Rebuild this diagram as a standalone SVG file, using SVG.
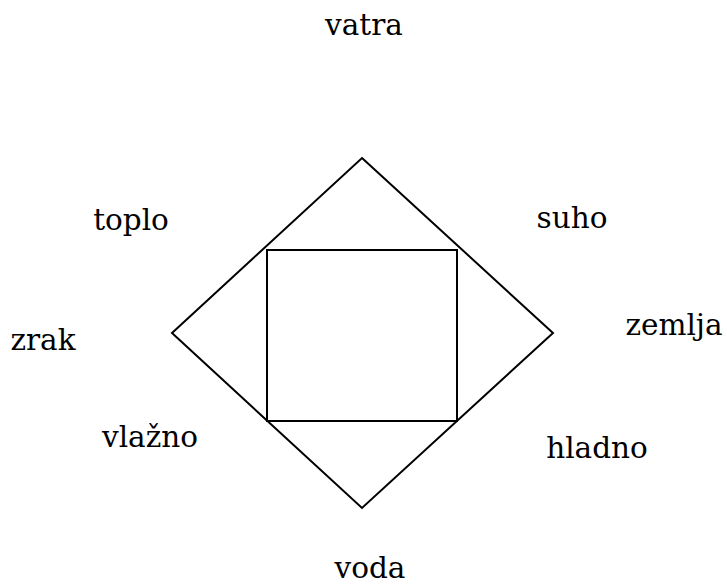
<svg xmlns="http://www.w3.org/2000/svg" width="727" height="586" viewBox="0 0 727 586">
<style>
.lbl{font-family:"DejaVu Serif","Liberation Serif",serif;font-size:29.5px;fill:#000;text-anchor:middle}
.shape{fill:none;stroke:#000;stroke-width:2}
</style>
<rect width="727" height="586" fill="#fff"/>
<g id="diamond"><polygon class="shape" points="362,158 553,333 362,508 172,333"/></g>
<g id="square"><rect class="shape" x="267" y="250" width="190" height="171"/></g>
<g id="connectors"></g>
<g id="vatra"><text class="lbl" x="364" y="35">vatra</text></g>
<g id="toplo"><text class="lbl" x="131" y="230">toplo</text></g>
<g id="suho"><text class="lbl" x="572" y="228">suho</text></g>
<g id="zrak"><text class="lbl" x="43" y="350">zrak</text></g>
<g id="zemlja"><text class="lbl" x="674" y="335">zemlja</text></g>
<g id="vlazno"><text class="lbl" x="150" y="447">vlažno</text></g>
<g id="hladno"><text class="lbl" x="597" y="458">hladno</text></g>
<g id="voda"><text class="lbl" x="370" y="578">voda</text></g>
</svg>
